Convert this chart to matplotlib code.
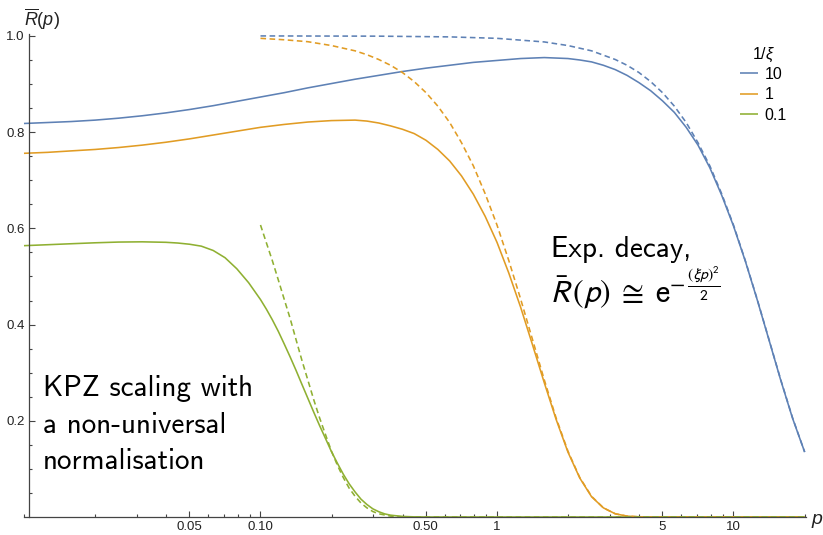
import matplotlib
matplotlib.use("Agg")
import matplotlib.pyplot as plt
from matplotlib.ticker import FixedLocator, FixedFormatter, NullFormatter

# ---------------- data ----------------
series_labels = ["10", "1", "0.1"]          # values of 1/xi
colors = ["#5E81B5", "#E19C24", "#8FB032"]

# solid curves (full model)
p_solid_blue = [0.0100, 0.0126, 0.0158, 0.0200, 0.0251, 0.0316, 0.0398, 0.0501, 0.0631,
                0.0794, 0.1000, 0.1259, 0.1585, 0.1995, 0.2512, 0.3162, 0.3981, 0.5012,
                0.6310, 0.7943, 1.000, 1.259, 1.585, 1.995, 2.239, 2.512, 2.818, 3.162,
                3.548, 3.981, 4.467, 5.012, 5.623, 6.310, 7.079, 7.943, 8.913, 10.00,
                11.22, 12.59, 14.13, 15.85, 17.78, 20.00]
r_solid_blue = [0.818, 0.820, 0.822, 0.825, 0.829, 0.834, 0.840, 0.847, 0.855,
                0.864, 0.873, 0.882, 0.892, 0.901, 0.910, 0.918, 0.926, 0.933,
                0.939, 0.945, 0.949, 0.953, 0.955, 0.953, 0.950, 0.946, 0.939, 0.930,
                0.918, 0.903, 0.886, 0.865, 0.841, 0.810, 0.773, 0.726, 0.669, 0.605,
                0.532, 0.452, 0.368, 0.284, 0.205, 0.135]

p_solid_orange = [0.0100, 0.0126, 0.0158, 0.0200, 0.0251, 0.0316, 0.0398, 0.0501, 0.0631,
                  0.0794, 0.1000, 0.1259, 0.1585, 0.1995, 0.2512, 0.2818, 0.3162, 0.3548,
                  0.3981, 0.4467, 0.5012, 0.5623, 0.6310, 0.7079, 0.7943, 0.8913, 1.000,
                  1.122, 1.259, 1.413, 1.585, 1.778, 1.995, 2.239, 2.512, 2.818, 3.162,
                  3.548, 3.981, 4.467, 20.00]
r_solid_orange = [0.756, 0.758, 0.761, 0.764, 0.768, 0.773, 0.779, 0.786, 0.794,
                  0.802, 0.810, 0.816, 0.821, 0.824, 0.825, 0.823, 0.819, 0.813,
                  0.806, 0.797, 0.783, 0.764, 0.740, 0.709, 0.671, 0.625, 0.571,
                  0.507, 0.436, 0.358, 0.279, 0.203, 0.135, 0.081, 0.042, 0.019, 0.0067,
                  0.0018, 0.0004, 0.0, 0.0]

p_solid_green = [0.0100, 0.0126, 0.0158, 0.0200, 0.0251, 0.0316, 0.0398, 0.0447, 0.0501,
                 0.0562, 0.0631, 0.0708, 0.0794, 0.0891, 0.1000, 0.1059, 0.1122, 0.1189,
                 0.1259, 0.1334, 0.1413, 0.1496, 0.1585, 0.1679, 0.1778, 0.1884, 0.1995,
                 0.2113, 0.2239, 0.2371, 0.2512, 0.2661, 0.2818, 0.2985, 0.3162, 0.3350,
                 0.3548, 0.3981, 0.4467, 0.5012, 20.00]
r_solid_green = [0.564, 0.566, 0.568, 0.570, 0.5715, 0.572, 0.571, 0.5695, 0.567,
                 0.563, 0.554, 0.539, 0.516, 0.487, 0.452, 0.432, 0.410, 0.386,
                 0.360, 0.333, 0.305, 0.276, 0.247, 0.218, 0.190, 0.163, 0.136,
                 0.112, 0.089, 0.069, 0.052, 0.037, 0.026, 0.017, 0.011, 0.0065,
                 0.0038, 0.0012, 0.0003, 0.0, 0.0]

# dashed curves (exponential decay asymptote)
p_dash_blue = [0.100, 0.3162, 0.6310, 1.000, 1.585, 1.995, 2.512, 3.162, 3.548, 3.981,
               4.467, 5.012, 5.623, 6.310, 7.079, 7.943, 8.913, 10.00, 11.22, 12.59,
               14.13, 15.85, 17.78, 20.00]
r_dash_blue = [1.000, 0.9995, 0.998, 0.995, 0.9875, 0.980, 0.969, 0.951, 0.939, 0.924,
               0.905, 0.882, 0.854, 0.820, 0.778, 0.730, 0.672, 0.607, 0.533, 0.453,
               0.369, 0.285, 0.206, 0.135]

p_dash_orange = [0.1000, 0.1259, 0.1585, 0.1995, 0.2512, 0.2818, 0.3162, 0.3548, 0.3981,
                 0.4467, 0.5012, 0.5623, 0.6310, 0.7079, 0.7943, 0.8913, 1.000, 1.122,
                 1.259, 1.413, 1.585, 1.778, 1.995, 2.239, 2.512, 2.818, 3.162, 3.548,
                 3.981, 4.467, 20.00]
r_dash_orange = [0.995, 0.992, 0.988, 0.980, 0.969, 0.961, 0.951, 0.939, 0.924,
                 0.905, 0.882, 0.854, 0.820, 0.778, 0.730, 0.672, 0.607, 0.533,
                 0.453, 0.369, 0.285, 0.206, 0.137, 0.082, 0.043, 0.019, 0.0067, 0.0018,
                 0.0004, 0.0, 0.0]

p_dash_green = [0.1000, 0.1059, 0.1122, 0.1189, 0.1259, 0.1334, 0.1413, 0.1496, 0.1585,
                0.1679, 0.1778, 0.1884, 0.1995, 0.2113, 0.2239, 0.2371, 0.2512, 0.2661,
                0.2818, 0.2985, 0.3162, 0.3548, 0.3981, 0.4467, 20.00]
r_dash_green = [0.607, 0.570, 0.533, 0.493, 0.453, 0.413, 0.369, 0.326, 0.285,
                0.244, 0.206, 0.171, 0.137, 0.108, 0.082, 0.060, 0.043, 0.029,
                0.019, 0.0114, 0.0067, 0.0018, 0.0004, 0.0, 0.0]

x_major = [0.05, 0.1, 0.5, 1, 5, 10]
x_major_labels = ["0.05", "0.10", "0.50", "1", "5", "10"]
x_minor = [0.01, 0.02, 0.03, 0.04, 0.06, 0.07, 0.08, 0.09, 0.2, 0.3, 0.4, 0.6, 0.7,
           0.8, 0.9, 2, 3, 4, 6, 7, 8, 9, 20]
y_major = [0.2, 0.4, 0.6, 0.8, 1.0]
y_major_labels = ["0.2", "0.4", "0.6", "0.8", "1.0"]
y_minor = [0.05, 0.1, 0.15, 0.25, 0.3, 0.35, 0.45, 0.5, 0.55, 0.65, 0.7, 0.75, 0.85, 0.9, 0.95]

# ---------------- figure ----------------
plt.rcParams["font.family"] = ["Liberation Sans", "DejaVu Sans"]
plt.rcParams["mathtext.fontset"] = "custom"
plt.rcParams["mathtext.rm"] = "Liberation Sans"
plt.rcParams["mathtext.it"] = "Liberation Sans:italic"

W, H = 823, 535
fig = plt.figure(figsize=(W / 100, H / 100), dpi=100)
ax = fig.add_axes([24 / W, 18 / H, 782 / W, 483 / H])
ax.set_xscale("log")
ax.set_xlim(0.01, 20.26)
ax.set_ylim(0, 1.004)

lw = 1.15
solids = [(p_solid_blue, r_solid_blue), (p_solid_orange, r_solid_orange),
          (p_solid_green, r_solid_green)]
dashes = [(p_dash_blue, r_dash_blue), (p_dash_orange, r_dash_orange),
          (p_dash_green, r_dash_green)]
handles = []
for (ps, rs), c, lab in zip(solids, colors, series_labels):
    h, = ax.plot(ps, rs, color=c, lw=lw, label=lab, solid_capstyle="butt",
                 solid_joinstyle="round", clip_on=False)
    handles.append(h)
for (ps, rs), c in zip(dashes, colors):
    ax.plot(ps, rs, color=c, lw=lw, ls=(0, (3.5, 2.2)), clip_on=False)

# axes styling (Mathematica-like)
axis_color = "#444444"
for s in ["top", "right"]:
    ax.spines[s].set_visible(False)
ax.spines["left"].set_position(("data", 0.0105))
ax.spines["left"].set_color(axis_color)
ax.spines["bottom"].set_color(axis_color)
ax.spines["left"].set_linewidth(0.9)
ax.spines["bottom"].set_linewidth(0.9)

ax.xaxis.set_major_locator(FixedLocator(x_major))
ax.xaxis.set_major_formatter(FixedFormatter(x_major_labels))
ax.xaxis.set_minor_locator(FixedLocator(x_minor))
ax.xaxis.set_minor_formatter(NullFormatter())
ax.yaxis.set_major_locator(FixedLocator(y_major))
ax.yaxis.set_major_formatter(FixedFormatter(y_major_labels))
ax.yaxis.set_minor_locator(FixedLocator(y_minor))
ax.yaxis.set_minor_formatter(NullFormatter())

ax.tick_params(which="both", direction="in", color=axis_color, width=0.8,
               labelsize=9.5, labelcolor="#222222")
ax.tick_params(which="major", length=4.5, pad=3)
ax.tick_params(which="minor", length=2.5)

# axis labels
fig.text(24 / W, 1 - 26 / H, r"$\overline{R}(p)$", fontsize=13, math_fontfamily="custom",
         ha="left", va="baseline", color="#222222")
fig.text(811 / W, 1 - 524 / H, r"$p$", fontsize=14, math_fontfamily="custom",
         ha="left", va="baseline", color="#222222")

# legend
leg = ax.legend(handles=handles, title=r"1/$\xi$", loc="upper left",
                bbox_to_anchor=(740 / W, 1 - 46 / H), bbox_transform=fig.transFigure,
                frameon=False, fontsize=11.5, title_fontsize=11.5, handlelength=1.15,
                handletextpad=0.4, labelspacing=0.34, borderpad=0, borderaxespad=0)
leg._legend_box.sep = 2

# annotations
ann_font = dict(family="cmss10", fontsize=21, color="black")
fig.text(43 / W, 1 - 396 / H, "KPZ scaling with", ha="left", va="baseline", **ann_font)
fig.text(43 / W, 1 - 433 / H, "a non-universal", ha="left", va="baseline", **ann_font)
fig.text(43 / W, 1 - 469 / H, "normalisation", ha="left", va="baseline", **ann_font)
fig.text(551 / W, 1 - 257 / H, "Exp. decay,", ha="left", va="baseline", **ann_font)
fig.text(550 / W, 1 - 302 / H,
         r"$\bar{R}\,(p)\;\cong\;\mathrm{e}^{-\,\frac{(\xi p)^2}{2}}$",
         ha="left", va="baseline", fontsize=23, math_fontfamily="stixsans", color="black")

fig.savefig("out.png", dpi=100)
